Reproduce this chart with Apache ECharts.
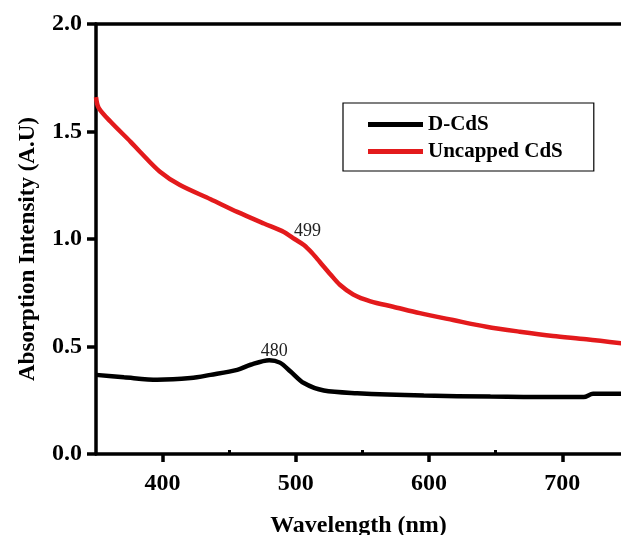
<!DOCTYPE html>
<html>
<head>
<meta charset="utf-8">
<script src="https://cdn.jsdelivr.net/npm/echarts@6/dist/echarts.min.js"></script>
<style>html,body{margin:0;padding:0;background:#fff}#c{width:621px;height:535px}</style>
</head>
<body>
<div id="c"></div>
<script>
// ---- data ----
const seriesNames = ['D-CdS', 'Uncapped CdS'];
const dcdsWavelength = [350, 371, 396, 421, 436, 456, 466, 480, 488, 496, 506, 521, 546, 596, 646, 696, 716, 723, 745];
const dcdsValues     = [0.368, 0.357, 0.345, 0.353, 0.368, 0.391, 0.415, 0.436, 0.425, 0.384, 0.330, 0.295, 0.283, 0.272, 0.267, 0.265, 0.265, 0.280, 0.280];
const uncappedWavelength = [350, 352, 361, 376, 383, 398, 413, 436, 456, 476, 491, 499, 506, 512, 518, 526, 533, 543, 556, 573, 593, 618, 643, 668, 693, 718, 745];
const uncappedValues     = [1.66, 1.61, 1.545, 1.452, 1.406, 1.313, 1.251, 1.185, 1.126, 1.072, 1.033, 1.0, 0.972, 0.936, 0.893, 0.835, 0.787, 0.742, 0.710, 0.685, 0.655, 0.623, 0.592, 0.569, 0.549, 0.534, 0.514];
const xTickLabels = [400, 500, 600, 700];
const xMinorTicks = [450, 550, 650];
const peakDcds = 480;
const peakUncapped = 499;

// ---- build ----
const font = 'Liberation Serif, "Times New Roman", serif';
const pairs = (xs, ys) => xs.map((x, i) => [x, ys[i]]);
const valueAt = (xs, ys, x) => ys[xs.indexOf(x)];

const chart = echarts.init(document.getElementById('c'), null, {renderer: 'canvas'});
const axisLine = {show: true, lineStyle: {color: '#000', width: 3.5}};
const option = {
  animation: false,
  backgroundColor: '#fff',
  grid: {left: 96, right: 0, top: 24, bottom: 81, containLabel: false, outerBoundsMode: 'none'},
  legend: {
    orient: 'vertical',
    left: 343, top: 103,
    padding: [11, 31, 9, 25],
    itemGap: 6,
    itemWidth: 55, itemHeight: 5,
    icon: 'rect',
    borderColor: '#000', borderWidth: 1.2, borderRadius: 0,
    textStyle: {fontFamily: font, fontWeight: 'bold', fontSize: 21, color: '#000'},
    data: seriesNames
  },
  xAxis: [
    {
      type: 'value', min: 350, max: 744, position: 'bottom',
      axisLine: axisLine,
      axisTick: {show: true, customValues: xTickLabels, length: 8, lineStyle: {color: '#000', width: 3.5}},
      axisLabel: {customValues: xTickLabels, fontFamily: font, fontWeight: 'bold', fontSize: 24, color: '#000', margin: 18},
      splitLine: {show: false},
      name: 'Wavelength (nm)', nameLocation: 'middle', nameGap: 60,
      nameTextStyle: {fontFamily: font, fontWeight: 'bold', fontSize: 24, color: '#000'}
    },
    {
      type: 'value', min: 350, max: 744, position: 'bottom',
      axisLine: {show: false},
      axisTick: {show: true, inside: true, customValues: xMinorTicks, length: 4, lineStyle: {color: '#000', width: 3}},
      axisLabel: {show: false},
      splitLine: {show: false}
    },
    {
      type: 'value', min: 350, max: 744, position: 'top',
      axisLine: axisLine,
      axisTick: {show: false},
      axisLabel: {show: false},
      splitLine: {show: false}
    }
  ],
  yAxis: {
    type: 'value', min: 0, max: 2, interval: 0.5,
    axisLine: axisLine,
    axisTick: {show: true, length: 9, lineStyle: {color: '#000', width: 3.5}},
    axisLabel: {formatter: v => v.toFixed(1), fontFamily: font, fontWeight: 'bold', fontSize: 24, color: '#000', margin: 14},
    splitLine: {show: false},
    name: 'Absorption Intensity (A.U)', nameLocation: 'middle', nameRotate: 90, nameGap: 56,
    nameTextStyle: {fontFamily: font, fontWeight: 'bold', fontSize: 23, color: '#000', padding: [0, 20, 0, 0]}
  },
  series: [
    {
      name: seriesNames[0], type: 'line', xAxisIndex: 0,
      data: pairs(dcdsWavelength, dcdsValues),
      showSymbol: false, smooth: 0.3,
      lineStyle: {color: '#000', width: 4.5}, itemStyle: {color: '#000'},
      markPoint: {
        symbol: 'circle', symbolSize: 0,
        label: {show: true, formatter: String(peakDcds), fontFamily: font, fontSize: 18, color: '#222', offset: [5, -9]},
        data: [{coord: [peakDcds, valueAt(dcdsWavelength, dcdsValues, peakDcds)]}]
      }
    },
    {
      name: seriesNames[1], type: 'line', xAxisIndex: 0,
      data: pairs(uncappedWavelength, uncappedValues),
      showSymbol: false, smooth: 0.3,
      lineStyle: {color: '#e31a1c', width: 4.5}, itemStyle: {color: '#e31a1c'},
      markPoint: {
        symbol: 'circle', symbolSize: 0,
        label: {show: true, formatter: String(peakUncapped), fontFamily: font, fontSize: 18, color: '#222', offset: [13, -8]},
        data: [{coord: [peakUncapped, valueAt(uncappedWavelength, uncappedValues, peakUncapped)]}]
      }
    }
  ]
};
chart.setOption(option);
</script>
</body>
</html>
